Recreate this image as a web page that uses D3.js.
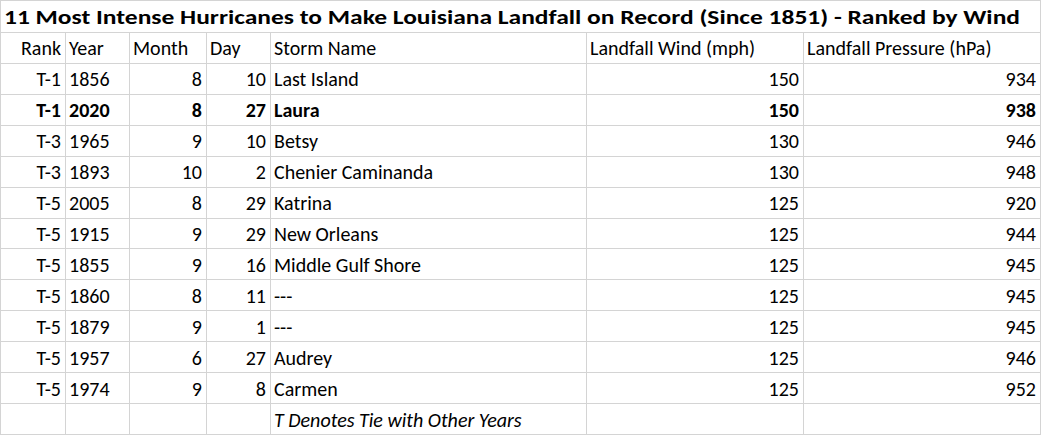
<!DOCTYPE html>
<html><head><meta charset="utf-8">
<script src="https://cdn.jsdelivr.net/npm/d3@7"></script>
<style>body{margin:0;background:#fff}</style>
</head><body><svg id="chart" width="1041" height="435"></svg>
<script>
const title = '11 Most Intense Hurricanes to Make Louisiana Landfall on Record (Since 1851) - Ranked by Wind';
const headers = ['Rank', 'Year', 'Month', 'Day', 'Storm Name', 'Landfall Wind (mph)', 'Landfall Pressure (hPa)'];
const ranks = ['T-1', 'T-1', 'T-3', 'T-3', 'T-5', 'T-5', 'T-5', 'T-5', 'T-5', 'T-5', 'T-5'];
const years = [1856, 2020, 1965, 1893, 2005, 1915, 1855, 1860, 1879, 1957, 1974];
const months = [8, 8, 9, 10, 8, 9, 9, 8, 9, 6, 9];
const days = [10, 27, 10, 2, 29, 29, 16, 11, 1, 27, 8];
const names = ['Last Island', 'Laura', 'Betsy', 'Chenier Caminanda', 'Katrina', 'New Orleans', 'Middle Gulf Shore', '---', '---', 'Audrey', 'Carmen'];
const winds = [150, 150, 130, 130, 125, 125, 125, 125, 125, 125, 125];
const pressures = [934, 938, 946, 948, 920, 944, 945, 945, 945, 946, 952];
const footnote = 'T Denotes Tie with Other Years';
const boldRow = 1;

const colEdges = [0, 65, 129, 206, 270, 586, 803, 1040];
const align = ['end', 'start', 'end', 'end', 'start', 'end', 'end'];
const svg = d3.select('#chart');
const font = 'Calibri, Carlito, "Open Sans", sans-serif';

const rows = [headers].concat(ranks.map((r, i) =>
  [r, years[i], months[i], days[i], names[i], winds[i], pressures[i]]));
rows.push(['', '', '', '', footnote, '', '']);

const y = d3.scaleBand().domain(d3.range(rows.length)).range([33, 435]).padding(0);

// grid
svg.append('g').selectAll('line.h')
  .data(d3.range(rows.length + 1)).enter().append('line')
  .attr('x1', 0).attr('x2', 1041)
  .attr('y1', i => Math.round(i < rows.length ? y(i) : 435) - 0.5)
  .attr('y2', i => Math.round(i < rows.length ? y(i) : 435) - 0.5)
  .attr('stroke', '#d4d4d4');
svg.append('line').attr('x1', 0).attr('x2', 1041).attr('y1', 0.5).attr('y2', 0.5).attr('stroke', '#d4d4d4');
svg.append('g').selectAll('line.v')
  .data(colEdges).enter().append('line')
  .attr('x1', d => d + 0.5).attr('x2', d => d + 0.5)
  .attr('y1', (d, i) => (i === 0 || i === colEdges.length - 1) ? 0 : 33).attr('y2', 435)
  .attr('stroke', '#d4d4d4');

svg.append('text').attr('x', 4).attr('y', 24)
  .attr('font-family', font).attr('font-size', 20).attr('font-weight', 'bold')
  .attr('textLength', 1016).attr('lengthAdjust', 'spacingAndGlyphs')
  .text(title);

rows.forEach((row, r) => {
  row.forEach((v, c) => {
    if (v === '') return;
    const isFoot = r === rows.length - 1;
    const a = r === 0 ? 'start' : align[c];
    svg.append('text')
      .attr('x', a === 'end' ? colEdges[c + 1] - 4 : colEdges[c] + 4)
      .attr('y', y(r) + y.bandwidth() / 2 + 7)
      .attr('text-anchor', r === 0 && c === 0 ? 'end' : a)
      .attr('x', r === 0 && c === 0 ? colEdges[1] - 4 : (a === 'end' ? colEdges[c + 1] - 4 : colEdges[c] + 4))
      .attr('font-family', font).attr('font-size', 20)
      .attr('font-weight', r === boldRow + 1 ? 'bold' : 'normal')
      .attr('font-style', isFoot ? 'italic' : 'normal')
      .attr('fill', '#000')
      .text(v);
  });
});
</script></body></html>
